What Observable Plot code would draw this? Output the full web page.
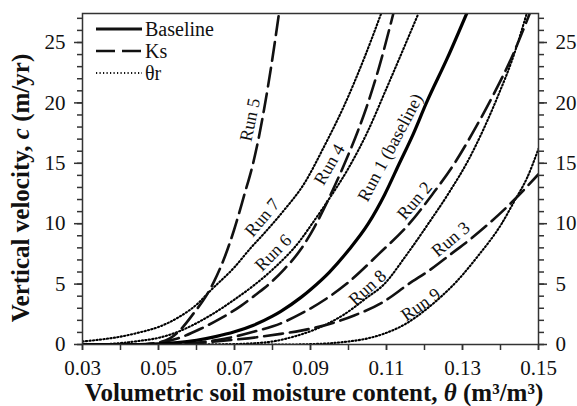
<!DOCTYPE html>
<html><head><meta charset="utf-8">
<script src="https://cdn.jsdelivr.net/npm/d3@7"></script>
<script src="https://cdn.jsdelivr.net/npm/@observablehq/plot@0.6"></script>
<style>
body{margin:0;background:#fff;}
#chart{width:577px;height:406px;}
</style></head><body><div id="chart"></div>
<script>
// [θ (m3/m3), c (m/yr)]
const run1 = [[0.03,0],[0.045,0],[0.05,0.05],[0.055,0.15],[0.06,0.35],[0.065,0.65],[0.07,1.05],[0.075,1.6],[0.08,2.35],[0.0822,2.75],[0.0875,3.9],[0.0902,4.6],[0.095,6.0],[0.1,7.8],[0.1052,10],[0.1095,12.4],[0.1134,15],[0.117,17.4],[0.1205,20],[0.126,23.7],[0.1311,27.4]];
const run2 = [[0.03,0],[0.05,0],[0.055,0.05],[0.06,0.15],[0.065,0.35],[0.07,0.65],[0.075,1.05],[0.0822,1.75],[0.0875,2.55],[0.0994,5],[0.108,7.5],[0.116,10],[0.122,12.4],[0.1279,15],[0.133,17.7],[0.138,20.6],[0.143,23.8],[0.1477,27.4]];
const run3 = [[0.03,0],[0.05,0],[0.055,0.05],[0.06,0.12],[0.065,0.25],[0.07,0.4],[0.0758,0.6],[0.0822,0.88],[0.0875,1.15],[0.095,1.7],[0.1015,2.4],[0.109,3.5],[0.1158,5],[0.122,6.3],[0.127,7.5],[0.132,8.7],[0.1369,10],[0.1437,12],[0.15,14.1]];
const run4 = [[0.03,0],[0.045,0],[0.05,0.15],[0.055,0.5],[0.0611,1.3],[0.066,2.1],[0.0717,3.2],[0.0755,4.1],[0.0791,5.0],[0.083,6.2],[0.0875,7.9],[0.091,9.7],[0.095,12.2],[0.099,15.0],[0.1025,17.7],[0.1047,19.6],[0.108,22.9],[0.1118,27.4]];
const run5 = [[0.03,0],[0.045,0],[0.048,0.05],[0.05,0.15],[0.053,0.5],[0.056,1.3],[0.0593,2.6],[0.0625,4.0],[0.0646,5.2],[0.0675,7.3],[0.0699,9.5],[0.0725,12.3],[0.0749,15],[0.0765,17.3],[0.0778,19.5],[0.0798,23.3],[0.0817,27.4]];
const run6 = [[0.03,0],[0.035,0.02],[0.04,0.12],[0.045,0.3],[0.05,0.55],[0.0559,1.15],[0.0625,2.2],[0.0699,3.7],[0.0751,4.9],[0.08,6.2],[0.0875,8.7],[0.0902,9.9],[0.095,12.1],[0.1,14.6],[0.105,17.6],[0.11,21.2],[0.1184,27.4]];
const run7 = [[0.03,0.25],[0.035,0.42],[0.04,0.65],[0.045,1.0],[0.05,1.45],[0.055,2.2],[0.06,3.3],[0.0638,4.5],[0.07,6.4],[0.0743,8.0],[0.0778,9.2],[0.083,11.1],[0.0883,13.3],[0.0936,16.4],[0.0989,19.8],[0.104,23.6],[0.1086,27.4]];
const run8 = [[0.03,0],[0.065,0],[0.07,0.03],[0.075,0.1],[0.08,0.25],[0.085,0.6],[0.09,1.1],[0.095,1.8],[0.0989,2.5],[0.1045,3.8],[0.1094,5],[0.115,7.3],[0.121,10],[0.1265,12.6],[0.1316,15.3],[0.1355,17.8],[0.1395,20.7],[0.143,23.5],[0.1469,27.4]];
const run9 = [[0.03,0],[0.085,0],[0.09,0.03],[0.095,0.1],[0.1,0.25],[0.105,0.5],[0.1094,0.9],[0.115,1.7],[0.12,2.8],[0.1245,4.0],[0.1284,5.2],[0.134,7.3],[0.1403,10],[0.1437,11.9],[0.147,13.8],[0.15,16.2]];

const xTicksMajor = [0.03,0.05,0.07,0.09,0.11,0.13,0.15];
const xTicksMinor = [0.03,0.04,0.05,0.06,0.07,0.08,0.09,0.10,0.11,0.12,0.13,0.14,0.15];
const yTicksMajor = [0,5,10,15,20,25];
const yTicksMinor = [0,1,2,3,4,5,6,7,8,9,10,11,12,13,14,15,16,17,18,19,20,21,22,23,24,25,26,27];

const labelText  = ["Run 5","Run 4","Run 7","Run 6","Run 1 (baseline)","Run 2","Run 8","Run 3","Run 9"];
const labelX     = [0.0741,0.0950,0.0773,0.0802,0.1110,0.1174,0.1050,0.1269,0.1190];
const labelY     = [18.6,14.9,10.5,7.6,16.3,11.9,4.7,8.7,3.3];
const labelAngle = [-78,-60,-50,-45,-62,-50,-42,-40,-35];

const legendNames = ["Baseline","Ks","\u03b8r"];

const FONT = "'Liberation Serif','Times New Roman',serif";
const DOT = "1.2,2.3";

const series = [
  {run:"Run 1", group:"Baseline", data:run1},
  {run:"Run 2", group:"Ks", data:run2},
  {run:"Run 3", group:"Ks", data:run3},
  {run:"Run 4", group:"Ks", data:run4},
  {run:"Run 5", group:"Ks", data:run5},
  {run:"Run 6", group:"tr", data:run6},
  {run:"Run 7", group:"tr", data:run7},
  {run:"Run 8", group:"tr", data:run8},
  {run:"Run 9", group:"tr", data:run9}
];
const rows = series.flatMap(s => s.data.map(([x,y]) => ({run:s.run, group:s.group, x, y})));
const labels = labelText.map((t,i) => ({t, x:labelX[i], y:labelY[i], a:labelAngle[i]}));

const axisCommon = {fontSize:21, fontFamily:FONT, stroke:"#333", strokeWidth:1.5, label:null, color:"#111"};

const plot = Plot.plot({
  width:577, height:406,
  marginLeft:82, marginRight:39, marginTop:13, marginBottom:62,
  x:{domain:[0.03,0.15], label:null},
  y:{domain:[0,27.4], label:null},
  style:{fontFamily:FONT, background:"#fff", color:"#111"},
  marks:[
    Plot.axisY(yTicksMinor, {anchor:"left", tickSize:5, tickFormat:() => "", ...axisCommon}),
    Plot.axisY(yTicksMajor, {anchor:"left", tickSize:8, tickPadding:9, tickFormat:d => String(d), ...axisCommon}),
    Plot.axisY(yTicksMinor, {anchor:"right", tickSize:5, tickFormat:() => "", ...axisCommon}),
    Plot.axisY(yTicksMajor, {anchor:"right", tickSize:8, tickPadding:9, tickFormat:d => String(d), ...axisCommon}),
    Plot.axisX(xTicksMinor, {anchor:"bottom", tickSize:6, tickFormat:() => "", ...axisCommon}),
    Plot.axisX(xTicksMajor, {anchor:"bottom", tickSize:6, tickPadding:10, tickFormat:d => d.toFixed(2), ...axisCommon}),
    Plot.line(rows.filter(d => d.group==="tr"), {x:"x", y:"y", z:"run", stroke:"#000", strokeWidth:2.1, strokeDasharray:DOT, curve:"monotone-x", clip:true}),
    Plot.line(rows.filter(d => d.group==="Ks"), {x:"x", y:"y", z:"run", stroke:"#111", strokeWidth:2.6, strokeDasharray:"19,7", curve:"monotone-x", clip:true}),
    Plot.line(rows.filter(d => d.group==="Baseline"), {x:"x", y:"y", z:"run", stroke:"#000", strokeWidth:3.2, curve:"monotone-x", clip:true}),
    Plot.text(labels, {x:"x", y:"y", text:"t", rotate:"a", fontSize:18, fontFamily:FONT, fill:"#111"}),
    Plot.frame({stroke:"#333", strokeWidth:1.5})
  ]
});

const svg = d3.select(plot);
// legend
const lg = svg.append("g").attr("font-family", FONT).attr("font-size", 20).attr("fill", "#111").attr("text-anchor","start");
const dashes = [null, "19,7", DOT];
const widths = [3.2, 2.6, 2.1];
legendNames.forEach((n,i) => {
  const yy = 29 + i*22;
  lg.append("line").attr("x1",96).attr("x2",142).attr("y1",yy).attr("y2",yy)
    .attr("stroke","#111").attr("stroke-width",widths[i]).attr("stroke-dasharray",dashes[i]);
  lg.append("text").attr("x",145).attr("y",yy).attr("dy","0.35em").text(n);
});
// axis titles
const xt = svg.append("text").attr("x",314).attr("y",401).attr("text-anchor","middle")
  .attr("font-family",FONT).attr("font-size",25).attr("font-weight","bold").attr("fill","#111");
xt.append("tspan").text("Volumetric soil moisture content, ");
xt.append("tspan").attr("font-style","italic").text("\u03b8");
xt.append("tspan").text(" (m\u00b3/m\u00b3)");
const yt = svg.append("text").attr("transform","translate(29,188) rotate(-90)").attr("text-anchor","middle")
  .attr("font-family",FONT).attr("font-size",25).attr("font-weight","bold").attr("fill","#111");
yt.append("tspan").text("Vertical velocity, ");
yt.append("tspan").attr("font-style","italic").text("c");
yt.append("tspan").text(" (m/yr)");

document.getElementById("chart").appendChild(plot);
</script></body></html>
